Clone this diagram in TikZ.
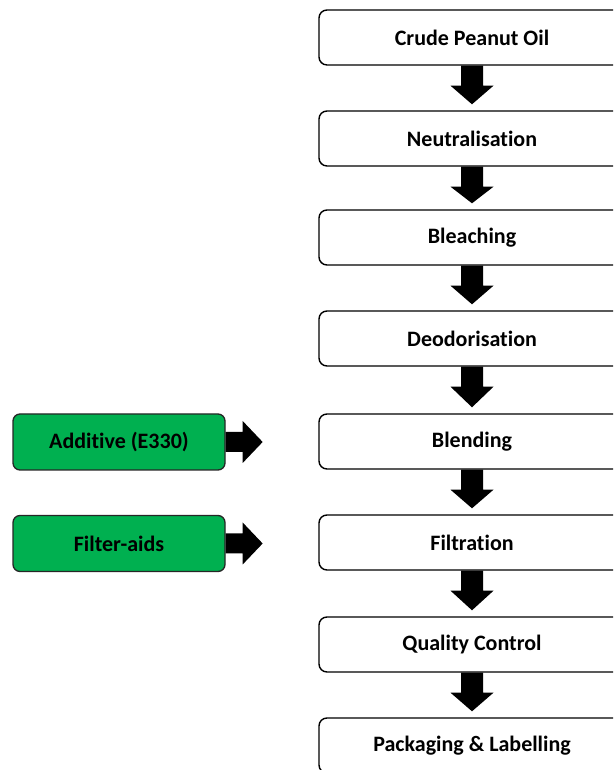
\documentclass[tikz,border=0pt]{standalone}
\usepackage{fontspec}
\setmainfont[RawFeature=-liga]{Carlito}
\usetikzlibrary{calc}
\definecolor{addgreen}{RGB}{0,176,80}
\tikzset{
  stepbox/.style={draw=black, line width=1.4pt, rounded corners=8pt, fill=white,
    minimum width=306pt, minimum height=55pt, inner sep=0pt,
    font=\fontsize{22}{24}\selectfont\bfseries},
  inbox/.style={draw=black!85, line width=1.3pt, rounded corners=7pt, fill=addgreen,
    minimum width=212pt, minimum height=56pt, inner sep=0pt,
    font=\fontsize{22}{24}\selectfont\bfseries},
  blockarrow/.style={fill=black}
}
\newcommand\blockdown[2]{%
  \fill[blockarrow] ($(#1.south)+(-11pt,0pt)$) -- ($(#1.south)+(11pt,0pt)$) --
    ($(#1.south)+(11pt,-20pt)$) -- ($(#1.south)+(21.5pt,-20pt)$) --
    ($(#2.north)+(0pt,6pt)$) -- ($(#1.south)+(-21.5pt,-20pt)$) --
    ($(#1.south)+(-11pt,-20pt)$) -- cycle;}
\newcommand\blockright[2]{%
  \fill[blockarrow] ($(#1.east)+(0pt,10pt)$) -- ($(#1.east)+(17pt,10pt)$) --
    ($(#1.east)+(17pt,21pt)$) -- (#2) --
    ($(#1.east)+(17pt,-21pt)$) -- ($(#1.east)+(17pt,-10pt)$) --
    ($(#1.east)+(0pt,-10pt)$) -- cycle;}
\begin{document}
\begin{tikzpicture}[x=1pt,y=1pt]
\useasboundingbox (0,0) rectangle (613,770);
\clip (0,0) rectangle (613,770);
\node[stepbox] (s1) at (472,732.5) {Crude Peanut Oil};
\node[stepbox] (s2) at (472,631.5) {Neutralisation};
\node[stepbox] (s3) at (472,532.5) {Bleaching};
\node[stepbox] (s4) at (472,431.5) {Deodorisation};
\node[stepbox] (s5) at (472,328.5) {Blending};
\node[stepbox] (s6) at (472,227.5) {Filtration};
\node[stepbox] (s7) at (472,125.5) {Quality Control};
\node[stepbox] (s8) at (472,24.5) {Packaging \& Labelling};
\node[inbox] (g1) at (119,328) {Additive (E330)};
\node[inbox] (g2) at (119,226.5) {Filter-aids};
\coordinate (t1) at ($(g1.east)+(37pt,0pt)$);
\coordinate (t2) at ($(g2.east)+(37pt,0pt)$);
\blockdown{s1}{s2}
\blockdown{s2}{s3}
\blockdown{s3}{s4}
\blockdown{s4}{s5}
\blockdown{s5}{s6}
\blockdown{s6}{s7}
\blockdown{s7}{s8}
\blockright{g1}{t1}
\blockright{g2}{t2}
\end{tikzpicture}
\end{document}
